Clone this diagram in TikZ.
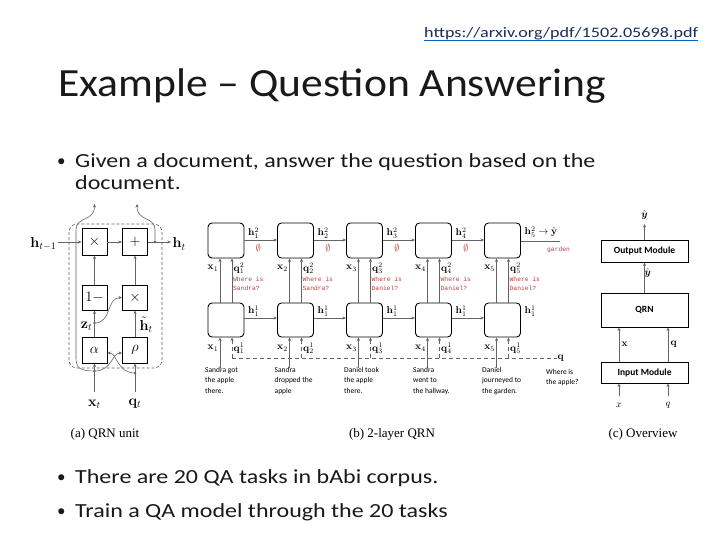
\documentclass[tikz,border=0pt]{standalone}
\usepackage[no-math]{fontspec}
\usepackage{amsmath}
\setmainfont{Carlito}
\newfontfamily\titlef[FakeStretch=1.09]{Carlito}
\newfontfamily\bodyf[FakeStretch=1.2]{Carlito}
\newfontfamily\urlf[FakeStretch=1.25]{Carlito}
\newfontfamily\serifff{Liberation Serif}
\newfontfamily\monoff{Liberation Mono}
\usetikzlibrary{arrows.meta}
\definecolor{urlblue}{RGB}{5,99,193}
\definecolor{urltxt}{RGB}{25,45,90}
\definecolor{slidetxt}{RGB}{25,25,25}
\definecolor{figred}{RGB}{185,60,60}
\definecolor{lgray}{RGB}{100,100,100}
\tikzset{
  sbox/.style={draw, line width=0.9pt, minimum width=25pt, minimum height=26pt, inner sep=0pt, font=\fontsize{15}{15}\selectfont},
  rbox/.style={draw, rounded corners=4pt, line width=0.9pt, minimum width=36pt, minimum height=35pt, inner sep=0pt},
  obox/.style={draw, line width=0.9pt, minimum width=87pt, inner sep=0pt, font=\fontsize{9.5}{10}\selectfont\bfseries},
  arr/.style={draw=lgray, line width=0.6pt, -{Stealth[length=3.5pt,width=3pt]}},
  ln/.style={draw=lgray, line width=0.6pt},
  dsh/.style={draw=lgray, line width=0.7pt, dash pattern=on 4pt off 3pt},
  lab/.style={inner sep=0.5pt, font=\fontsize{14}{14}\selectfont},
  slab/.style={inner sep=0.5pt, font=\fontsize{10}{10}\selectfont},
  redt/.style={text=figred, inner sep=0pt, font=\fontsize{6.3}{9}\monoff, align=left, anchor=west},
  sent/.style={inner sep=0pt, font=\fontsize{7.5}{10.5}\selectfont, align=left, anchor=north west},
  captxt/.style={inner sep=0pt, font=\fontsize{13}{13}\serifff},
  dot/.style={circle, fill=lgray, inner sep=0pt, minimum size=2.6pt},
  bodytxt/.style={anchor=base west, inner sep=0pt, text=slidetxt, font=\fontsize{20}{24}\bodyf},
}
\begin{document}
\begin{tikzpicture}[x=1pt,y=-1pt]
\useasboundingbox (0,0) rectangle (720,540);
% ---------------- slide text ----------------
\node[anchor=base west, inner sep=0pt, text=urltxt, font=\fontsize{14.5}{15}\urlf] (url) at (424,38) {https://arxiv.org/pdf/1502.05698.pdf};
\draw[urlblue, line width=1pt] (url.south west) -- (url.south east);
\node[anchor=base west, inner sep=0pt, text=slidetxt, font=\fontsize{40}{44}\titlef] (title) at (58,97) {Example – Question Answering};
\node[bodytxt, font=\fontsize{17}{20}\selectfont] (b1) at (57,167) {•};
\node[bodytxt] (t1) at (75,168) {Given a document, answer the question based on the};
\node[bodytxt] (t1b) at (75,190) {document.};
\node[bodytxt, font=\fontsize{17}{20}\selectfont] (b2) at (57,482) {•};
\node[bodytxt] (t2) at (75,483) {There are 20 QA tasks in bAbi corpus.};
\node[bodytxt, font=\fontsize{17}{20}\selectfont] (b3) at (57,516) {•};
\node[bodytxt] (t3) at (75,517) {Train a QA model through the 20 tasks};
% ---------------- (a) QRN unit ----------------
\draw[lgray, dash pattern=on 3pt off 2pt, line width=0.6pt, rounded corners=8pt] (69,224) rectangle (162,368);
\node[sbox, minimum height=27pt] (mula) at (94.5,241.5) {$\times$};
\node[sbox, minimum height=27pt] (plus) at (135,241.5) {$+$};
\node[sbox, minimum height=25pt] (onem) at (94.5,297.5) {$1-$};
\node[sbox, minimum height=25pt] (mulb) at (135,297.5) {$\times$};
\node[sbox] (alpha) at (94.5,350) {$\alpha$};
\node[sbox] (rho) at (135,350) {$\rho$};
\node[lab, anchor=east] (hprev) at (57,244) {$\mathbf{h}_{t-1}$};
\node[lab, anchor=west] (hnow) at (172,244) {$\mathbf{h}_{t}$};
\coordinate (hin) at (58,242);
\coordinate (hout) at (171,242);
\draw[arr] (hin) -- (mula.west |- hin);
\draw[arr] (mula.east |- hin) -- (plus.west |- hin);
\draw[arr] (plus.east |- hin) -- (hout);
\draw[arr] (onem) -- (mula);
\draw[arr] (mulb) -- (plus);
\draw[arr] (alpha) -- (onem);
\draw[arr] (rho) -- (mulb);
\node[dot] (zd) at (94.5,323) {};
\draw[arr] (zd.center) .. controls (112,323) and (106,298) .. (mulb.west);
\node[lab, anchor=east] (zl) at (93,326) {$\mathbf{z}_{t}$};
\node[lab, anchor=west] (htl) at (139,325) {$\tilde{\mathbf{h}}_{t}$};
\node[lab] (xtl) at (94.5,404) {$\mathbf{x}_{t}$};
\node[lab] (qtl) at (135,404) {$\mathbf{q}_{t}$};
\node[dot] (xd) at (94.5,371) {};
\node[dot] (qd) at (135,373) {};
\coordinate (xin) at (94.5,392);
\coordinate (qin) at (135,392);
\draw[arr] (xin) -- (alpha);
\draw[arr] (qin) -- (rho);
\draw[arr] (xd.center) .. controls (112,371) and (112,353) .. (rho.west |- 0,353);
\draw[arr] (qd.center) .. controls (117,373) and (117,353) .. (alpha.east |- 0,353);
\coordinate (xup) at (94.5,204);
\coordinate (hup) at (137,204);
\draw[arr] (xd.center) .. controls (80,371) and (76,368) .. (76,358) -- (76,230) .. controls (76,216) and (94.5,222) .. (xup);
\node[dot] (hd) at (155,242) {};
\draw[arr] (hd.center) -- (155,230) .. controls (155,216) and (137,222) .. (hup);
\node[captxt] (capa) at (105,434) {(a) QRN unit};
% ---------------- (b) 2-layer QRN ----------------
\foreach \i/\x in {1/226,2/295.5,3/364.5,4/433.5,5/502.5}{
  \node[rbox] (T\i) at (\x,240.5) {};
  \node[rbox, minimum height=34pt] (B\i) at (\x,320) {};
}
\foreach \a/\b/\k in {1/2/1,2/3/2,3/4/3,4/5/4}{
  \draw[arr] (T\a.east |- 0,240) -- (T\b.west |- 0,240);
  \node[slab, anchor=west] (ht\a) at ([xshift=3pt]T\a.east |- 0,233) {$\mathbf{h}^{2}_{\k}$};
  \node[text=figred, inner sep=0pt, font=\fontsize{10}{10}\selectfont] (e\a) at ([xshift=14pt]T\a.east |- 0,248) {$\emptyset$};
  \draw[arr] (B\a.east |- 0,318) -- (B\b.west |- 0,318);
  \node[slab, anchor=west] (hb\a) at ([xshift=3pt]B\a.east |- 0,311) {$\mathbf{h}^{1}_{1}$};
}
\node[slab, anchor=west] (hb5) at ([xshift=3pt]B5.east |- 0,311) {$\mathbf{h}^{1}_{1}$};
\coordinate (yend) at (560,241);
\draw[ln] (T5.east |- 0,241) -- (yend);
\node[slab, anchor=west] (ht5) at ([xshift=3pt]T5.east |- 0,232) {$\mathbf{h}^{2}_{5}\rightarrow\hat{\mathbf{y}}$};
\node[redt] (gard) at (547,250) {garden};
\foreach \i in {1,...,5}{
  \draw[arr] ([xshift=-6pt]B\i.north) -- ([xshift=-6pt]T\i.south);
  \draw[arr] ([xshift=6pt]B\i.north) -- ([xshift=6pt]T\i.south);
  \node[slab, anchor=east] (xa\i) at ([xshift=-7pt,yshift=-10pt]T\i.south) {$\mathbf{x}_{\i}$};
  \node[slab, anchor=west] (qa\i) at ([xshift=7pt,yshift=-10pt]T\i.south) {$\mathbf{q}^{2}_{\i}$};
  \coordinate (xs\i) at ([xshift=-6pt]B\i.south |- 0,368);
  \coordinate (qs\i) at ([xshift=6pt]B\i.south |- 0,358);
  \draw[arr] (xs\i) -- ([xshift=-6pt]B\i.south);
  \draw[dsh, -{Stealth[length=3.5pt,width=3pt]}] (qs\i) -- ([xshift=6pt]B\i.south);
  \node[slab, anchor=east] (xb\i) at ([xshift=-7pt,yshift=-11pt]B\i.south) {$\mathbf{x}_{\i}$};
  \node[slab, anchor=west] (qb\i) at ([xshift=7pt,yshift=-11pt]B\i.south) {$\mathbf{q}^{1}_{\i}$};
}
\node[redt] (w1) at (233,284) {Where is\\Sandra?};
\node[redt] (w2) at (302.5,284) {Where is\\Sandra?};
\node[redt] (w3) at (371.5,284) {Where is\\Daniel?};
\node[redt] (w4) at (440.5,284) {Where is\\Daniel?};
\node[redt] (w5) at (509.5,284) {Where is\\Daniel?};
\coordinate (qend) at (557,358);
\draw[dsh] (qs1) -- (qend);
\node[slab, anchor=west] (ql) at (557,358) {$\mathbf{q}$};
\node[sent] (s1) at (205,367) {Sandra got\\the apple\\there.};
\node[sent] (s2) at (274.5,367) {Sandra\\dropped the\\apple};
\node[sent] (s3) at (344,367) {Daniel took\\the apple\\there.};
\node[sent] (s4) at (413,367) {Sandra\\went to\\the hallway.};
\node[sent] (s5) at (482,367) {Daniel\\journeyed to\\the garden.};
\node[sent] (s6) at (546,369) {Where is\\the apple?};
\node[captxt] (capb) at (392,434) {(b) 2-layer QRN};
% ---------------- (c) Overview ----------------
\node[obox, minimum height=22pt] (outm) at (644.5,251) {Output Module};
\node[obox, minimum height=34pt] (qrn) at (644.5,310) {QRN};
\node[obox, minimum height=21pt] (inm) at (644.5,372.5) {Input Module};
\coordinate (ytop) at (644.5,224);
\draw[arr] (outm) -- (ytop);
\node[slab] (yl1) at (644.5,215) {$\hat{\boldsymbol{y}}$};
\draw[arr] (qrn) -- (outm);
\node[slab, anchor=west] (yl2) at (644,273) {$\hat{\boldsymbol{y}}$};
\draw[arr] (inm.north -| 619,0) -- (qrn.south -| 619,0);
\draw[arr] (inm.north -| 668,0) -- (qrn.south -| 668,0);
\node[slab, anchor=west] (xl) at (621,344) {$\mathbf{x}$};
\node[slab, anchor=west] (qlc) at (670,344) {$\mathbf{q}$};
\coordinate (xc) at (619,396);
\coordinate (qc) at (668,396);
\draw[arr] (xc) -- (inm.south -| xc);
\draw[arr] (qc) -- (inm.south -| qc);
\node[slab] (xil) at (619,405) {$x$};
\node[slab] (qil) at (668,405) {$q$};
\node[captxt] (capc) at (643,434) {(c) Overview};
\end{tikzpicture}
\end{document}
